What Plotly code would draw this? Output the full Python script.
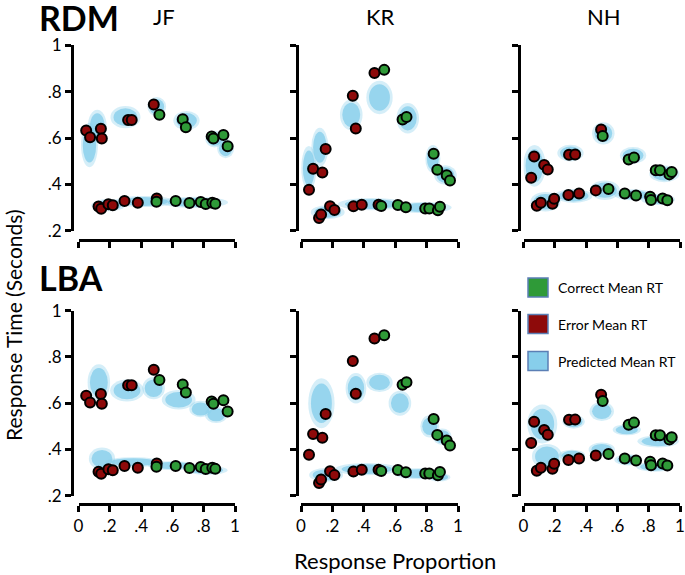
import plotly.graph_objects as go

W, H = 685, 575

subjects = ["JF", "KR", "NH"]
models = ["RDM", "LBA"]

x_tickvals = [0, 0.2, 0.4, 0.6, 0.8, 1.0]
x_ticktext = ["0", ".2", ".4", ".6", ".8", "1"]
y_tickvals = [0.2, 0.4, 0.6, 0.8, 1.0]
y_ticktext = [".2", ".4", ".6", ".8", "1"]

# ---------------- observed data (same in both model rows) ----------------
jf_err_x = [0.049, 0.074, 0.143, 0.149, 0.317, 0.340, 0.481, 0.128, 0.145, 0.191, 0.219, 0.294, 0.379, 0.500]
jf_err_y = [0.632, 0.603, 0.640, 0.598, 0.678, 0.678, 0.745, 0.304, 0.295, 0.314, 0.310, 0.328, 0.321, 0.339]
jf_cor_x = [0.517, 0.666, 0.686, 0.851, 0.862, 0.926, 0.953, 0.498, 0.621, 0.709, 0.781, 0.813, 0.855, 0.874]
jf_cor_y = [0.700, 0.681, 0.646, 0.607, 0.598, 0.613, 0.564, 0.325, 0.328, 0.320, 0.324, 0.315, 0.321, 0.316]

kr_err_x = [0.051, 0.077, 0.136, 0.157, 0.330, 0.349, 0.468, 0.115, 0.128, 0.185, 0.213, 0.334, 0.387, 0.494]
kr_err_y = [0.377, 0.467, 0.451, 0.553, 0.782, 0.641, 0.880, 0.255, 0.270, 0.306, 0.289, 0.305, 0.312, 0.312]
kr_cor_x = [0.530, 0.647, 0.672, 0.845, 0.868, 0.928, 0.949, 0.511, 0.617, 0.668, 0.791, 0.817, 0.872, 0.885]
kr_cor_y = [0.894, 0.680, 0.691, 0.532, 0.463, 0.439, 0.417, 0.307, 0.311, 0.301, 0.296, 0.296, 0.288, 0.303]

nh_err_x = [0.049, 0.068, 0.132, 0.155, 0.291, 0.330, 0.496, 0.085, 0.111, 0.185, 0.196, 0.287, 0.355, 0.462]
nh_err_y = [0.428, 0.520, 0.484, 0.464, 0.528, 0.529, 0.637, 0.308, 0.321, 0.316, 0.338, 0.354, 0.361, 0.374]
nh_cor_x = [0.506, 0.672, 0.706, 0.845, 0.872, 0.932, 0.947, 0.543, 0.647, 0.719, 0.809, 0.815, 0.889, 0.919]
nh_cor_y = [0.609, 0.507, 0.516, 0.461, 0.461, 0.443, 0.453, 0.380, 0.361, 0.352, 0.347, 0.332, 0.339, 0.331]

# ---------------- predicted clouds: centre and spread ----------------
rdm_jf_cx = [0.07, 0.12, 0.30, 0.50, 0.69, 0.87, 0.94, 0.19, 0.42, 0.74]
rdm_jf_cy = [0.57, 0.65, 0.69, 0.735, 0.675, 0.595, 0.555, 0.31, 0.326, 0.322]
rdm_jf_sx = [0.045, 0.05, 0.08, 0.05, 0.07, 0.05, 0.045, 0.09, 0.16, 0.18]
rdm_jf_sy = [0.08, 0.06, 0.04, 0.035, 0.035, 0.03, 0.035, 0.022, 0.02, 0.02]

rdm_kr_cx = [0.05, 0.12, 0.32, 0.50, 0.68, 0.84, 0.92, 0.17, 0.45, 0.78]
rdm_kr_cy = [0.47, 0.56, 0.70, 0.775, 0.685, 0.51, 0.44, 0.28, 0.315, 0.30]
rdm_kr_sx = [0.04, 0.045, 0.06, 0.07, 0.06, 0.04, 0.06, 0.09, 0.18, 0.15]
rdm_kr_sy = [0.08, 0.07, 0.055, 0.06, 0.055, 0.05, 0.035, 0.025, 0.022, 0.02]

rdm_nh_cx = [0.07, 0.30, 0.51, 0.70, 0.90, 0.14, 0.32, 0.52, 0.70, 0.86]
rdm_nh_cy = [0.48, 0.535, 0.62, 0.525, 0.445, 0.325, 0.35, 0.375, 0.355, 0.335]
rdm_nh_sx = [0.06, 0.07, 0.06, 0.07, 0.08, 0.08, 0.10, 0.08, 0.10, 0.09]
rdm_nh_sy = [0.075, 0.03, 0.04, 0.03, 0.03, 0.035, 0.025, 0.035, 0.02, 0.02]

lba_jf_cx = [0.13, 0.31, 0.48, 0.64, 0.78, 0.88, 0.15, 0.35, 0.60, 0.82]
lba_jf_cy = [0.69, 0.655, 0.665, 0.615, 0.575, 0.55, 0.36, 0.345, 0.33, 0.31]
lba_jf_sx = [0.06, 0.09, 0.06, 0.09, 0.06, 0.06, 0.07, 0.15, 0.13, 0.11]
lba_jf_sy = [0.065, 0.04, 0.04, 0.035, 0.03, 0.03, 0.04, 0.018, 0.016, 0.016]

lba_kr_cx = [0.13, 0.35, 0.50, 0.63, 0.82, 0.90, 0.16, 0.42, 0.75, 0.88]
lba_kr_cy = [0.60, 0.665, 0.69, 0.60, 0.50, 0.455, 0.29, 0.315, 0.295, 0.28]
lba_kr_sx = [0.07, 0.055, 0.07, 0.06, 0.05, 0.05, 0.09, 0.17, 0.13, 0.06]
lba_kr_sy = [0.09, 0.055, 0.035, 0.045, 0.04, 0.03, 0.025, 0.022, 0.02, 0.015]

lba_nh_cx = [0.12, 0.32, 0.50, 0.66, 0.86, 0.15, 0.31, 0.50, 0.67, 0.84]
lba_nh_cy = [0.51, 0.52, 0.565, 0.485, 0.435, 0.37, 0.375, 0.40, 0.355, 0.325]
lba_nh_sx = [0.08, 0.06, 0.065, 0.075, 0.11, 0.08, 0.07, 0.07, 0.075, 0.10]
lba_nh_sy = [0.07, 0.025, 0.035, 0.02, 0.022, 0.045, 0.02, 0.025, 0.02, 0.018]

observed = {
    "JF": (jf_err_x, jf_err_y, jf_cor_x, jf_cor_y),
    "KR": (kr_err_x, kr_err_y, kr_cor_x, kr_cor_y),
    "NH": (nh_err_x, nh_err_y, nh_cor_x, nh_cor_y),
}
clouds = {
    ("RDM", "JF"): (rdm_jf_cx, rdm_jf_cy, rdm_jf_sx, rdm_jf_sy),
    ("RDM", "KR"): (rdm_kr_cx, rdm_kr_cy, rdm_kr_sx, rdm_kr_sy),
    ("RDM", "NH"): (rdm_nh_cx, rdm_nh_cy, rdm_nh_sx, rdm_nh_sy),
    ("LBA", "JF"): (lba_jf_cx, lba_jf_cy, lba_jf_sx, lba_jf_sy),
    ("LBA", "KR"): (lba_kr_cx, lba_kr_cy, lba_kr_sx, lba_kr_sy),
    ("LBA", "NH"): (lba_nh_cx, lba_nh_cy, lba_nh_sx, lba_nh_sy),
}

# ---------------- styling / layout ----------------
GREEN = "#2f9a38"
RED = "#8e0a0a"
BLUE = "#87ceeb"
FONT = "Lato"


def px_x(p):
    return p / W


def px_y(p):
    return 1 - p / H


col_x_dom = [(78.5, 235.0), (301.0, 458.0), (523.5, 680.0)]
col_y_pos = [72.0, 296.5, 519.0]
row_y_dom = [(45.3, 230.7), (310.7, 495.7)]
row_x_pos = [240.0, 504.0]

fig = go.Figure()
shapes = []
annotations = []
layout = {}

for r, model in enumerate(models):
    for c, subj in enumerate(subjects):
        k = r * 3 + c + 1
        xa = "x" if k == 1 else f"x{k}"
        ya = "y" if k == 1 else f"y{k}"
        xkey = "xaxis" if k == 1 else f"xaxis{k}"
        ykey = "yaxis" if k == 1 else f"yaxis{k}"

        cx, cy, sx, sy = clouds[(model, subj)]
        for i in range(len(cx)):
            for scale, op in ((1.2, 0.35), (0.95, 0.8)):
                shapes.append(dict(
                    type="circle", xref=xa, yref=ya, layer="below",
                    x0=cx[i] - sx[i] * scale, x1=cx[i] + sx[i] * scale,
                    y0=cy[i] - sy[i] * scale, y1=cy[i] + sy[i] * scale,
                    fillcolor=BLUE, opacity=op, line=dict(width=0)))

        ex, ey, gx, gy = observed[subj]
        fig.add_trace(go.Scatter(
            x=ex, y=ey, mode="markers", xaxis=xa, yaxis=ya, showlegend=False,
            cliponaxis=False, hoverinfo="skip",
            marker=dict(size=10, color=RED, line=dict(color="black", width=2))))
        fig.add_trace(go.Scatter(
            x=gx, y=gy, mode="markers", xaxis=xa, yaxis=ya, showlegend=False,
            cliponaxis=False, hoverinfo="skip",
            marker=dict(size=10, color=GREEN, line=dict(color="black", width=2))))

        x0, x1 = col_x_dom[c]
        yt, yb = row_y_dom[r]
        layout[xkey] = dict(
            domain=[px_x(x0), px_x(x1)], range=[0, 1], anchor="free",
            position=px_y(row_x_pos[r]), automargin=False, fixedrange=True,
            showline=True, linecolor="black", linewidth=3,
            ticks="outside", ticklen=6, tickwidth=3, tickcolor="black",
            tickvals=x_tickvals, ticktext=x_ticktext,
            showticklabels=(r == 1), showgrid=False, zeroline=False,
            tickfont=dict(family=FONT, size=17, color="black"))
        layout[ykey] = dict(
            domain=[px_y(yb), px_y(yt)], range=[0.2, 1], anchor="free",
            position=px_x(col_y_pos[c]), automargin=False, fixedrange=True,
            showline=True, linecolor="black", linewidth=3,
            ticks="outside", ticklen=6, tickwidth=3, tickcolor="black",
            tickvals=y_tickvals, ticktext=y_ticktext,
            showticklabels=(c == 0), showgrid=False, zeroline=False,
            tickfont=dict(family=FONT, size=17, color="black"))


def text(s, x, y, size, bold=False, anchor="center", angle=0):
    annotations.append(dict(
        text=f"<b>{s}</b>" if bold else s, x=px_x(x), y=px_y(y),
        xref="paper", yref="paper", xanchor=anchor, yanchor="middle",
        showarrow=False, textangle=angle,
        font=dict(family=FONT, size=size, color="black")))


text("RDM", 37, 18, 34, bold=True, anchor="left")
text("LBA", 37, 277, 34, bold=True, anchor="left")
text("JF", 163.5, 16, 22)
text("KR", 380.5, 16, 22)
text("NH", 604, 16, 22)
# rotated annotations are anchored ~37px high in plotly; compensate so the text is centred at y~288
text("Response Time (Seconds)", 13, 325, 21, angle=-90)
text("Response Proportion", 395, 560, 22)

legend_items = [("Correct Mean RT", GREEN, 287.5), ("Error Mean RT", RED, 324.0),
                ("Predicted Mean RT", BLUE, 361.0)]
for label, colr, yc in legend_items:
    shapes.append(dict(type="rect", xref="paper", yref="paper",
                       x0=px_x(528), x1=px_x(548), y0=px_y(yc + 9.5), y1=px_y(yc - 9.5),
                       fillcolor=colr, line=dict(color="#5b7fb5", width=1.5)))
    text(label, 556, yc, 14, anchor="left")

fig.update_layout(
    width=W, height=H, margin=dict(l=0, r=0, t=0, b=0, pad=0, autoexpand=False),
    paper_bgcolor="white", plot_bgcolor="white", hovermode=False,
    shapes=shapes, annotations=annotations, showlegend=False,
    **layout)

fig.write_html("out.html", config={"displayModeBar": False, "staticPlot": True},
               post_script="document.body.style.margin='0px';")
